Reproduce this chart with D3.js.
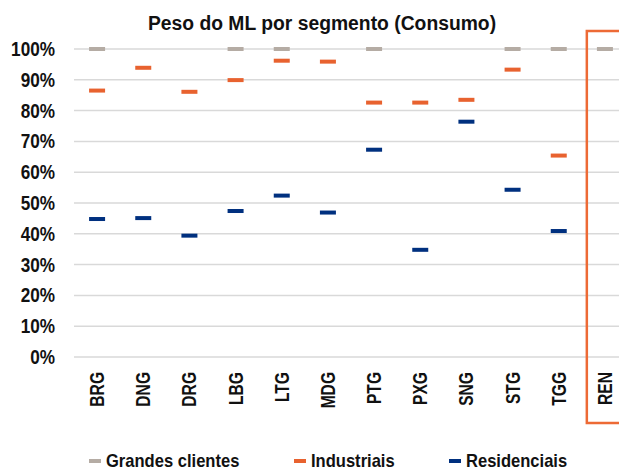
<!DOCTYPE html>
<html>
<head>
<meta charset="utf-8">
<script src="https://cdn.jsdelivr.net/npm/d3@7.9.0/dist/d3.min.js"></script>
<style>
  body { margin: 0; background: #fff; }
  svg { display: block; font-family: "Liberation Sans", Arial, sans-serif; font-weight: bold; fill: #111; }
</style>
</head>
<body>
<svg id="chart" width="619" height="470"></svg>
<script>
const categories = ['BRG', 'DNG', 'DRG', 'LBG', 'LTG', 'MDG', 'PTG', 'PXG', 'SNG', 'STG', 'TGG', 'REN'];
const grandes = [1.00, null, null, 1.00, 1.00, null, 1.00, null, null, 1.00, 1.00, 1.00];
const industriais = [0.865, 0.939, 0.861, 0.899, 0.962, 0.959, 0.826, 0.826, 0.835, 0.933, 0.654, null];
const residenciais = [0.448, 0.451, 0.394, 0.474, 0.524, 0.469, 0.673, 0.348, 0.764, 0.543, 0.409, null];
const yTicks = [0, 0.1, 0.2, 0.3, 0.4, 0.5, 0.6, 0.7, 0.8, 0.9, 1.0];

const series = [
  { name: 'Grandes clientes', values: grandes, color: '#b5aca4' },
  { name: 'Industriais', values: industriais, color: '#e8622f' },
  { name: 'Residenciais', values: residenciais, color: '#00307f' }
];

const svg = d3.select('#chart');

const x = d3.scaleBand().domain(categories).range([74, 628]);
const y = d3.scaleLinear().domain([0, 1]).range([357, 49]);

// gridlines
svg.append('g')
  .selectAll('line')
  .data(yTicks)
  .join('line')
  .attr('x1', 74).attr('x2', 628)
  .attr('y1', d => y(d)).attr('y2', d => y(d))
  .attr('stroke', '#d9d9d9')
  .attr('stroke-width', 1.5);

// y labels (font squeezed a bit to look like the narrow original)
svg.append('g')
  .selectAll('text')
  .data(yTicks)
  .join('text')
  .attr('transform', d => `translate(55,${y(d)}) scale(0.88,1)`)
  .attr('dy', '0.36em')
  .attr('text-anchor', 'end')
  .attr('font-size', 19.5)
  .text(d3.format('.0%'));

// x labels
svg.append('g')
  .selectAll('text')
  .data(categories)
  .join('text')
  .attr('transform', d => `translate(${x(d) + x.bandwidth() / 2 + 7},372) rotate(-90) scale(0.8,1)`)
  .attr('text-anchor', 'end')
  .attr('font-size', 19.5)
  .text(d => d);

// markers
const mw = 16, mh = 4;
series.forEach(s => {
  svg.append('g')
    .selectAll('rect')
    .data(categories.map((c, i) => ({ c, v: s.values[i] })).filter(d => d.v != null))
    .join('rect')
    .attr('x', d => x(d.c) + x.bandwidth() / 2 - mw / 2)
    .attr('y', d => y(d.v) - mh / 2)
    .attr('width', mw)
    .attr('height', mh)
    .attr('fill', s.color);
});

// highlight box around REN
svg.append('rect')
  .attr('x', x('REN') + 5)
  .attr('y', 31)
  .attr('width', 60)
  .attr('height', 392)
  .attr('fill', 'none')
  .attr('stroke', '#ed6a35')
  .attr('stroke-width', 2.5);

// title
svg.append('text')
  .attr('transform', 'translate(322,30) scale(0.92,1)')
  .attr('text-anchor', 'middle')
  .attr('font-size', 21)
  .text('Peso do ML por segmento (Consumo)');

// legend
const legendX = [89, 294, 449];
const legend = svg.append('g')
  .selectAll('g')
  .data(series)
  .join('g')
  .attr('transform', (d, i) => `translate(${legendX[i]},461)`);
legend.append('rect')
  .attr('x', 0).attr('y', -2)
  .attr('width', 12).attr('height', 4)
  .attr('fill', d => d.color);
legend.append('text')
  .attr('transform', 'translate(17,6) scale(0.92,1)')
  .attr('font-size', 18)
  .text(d => d.name);
</script>
</body>
</html>
